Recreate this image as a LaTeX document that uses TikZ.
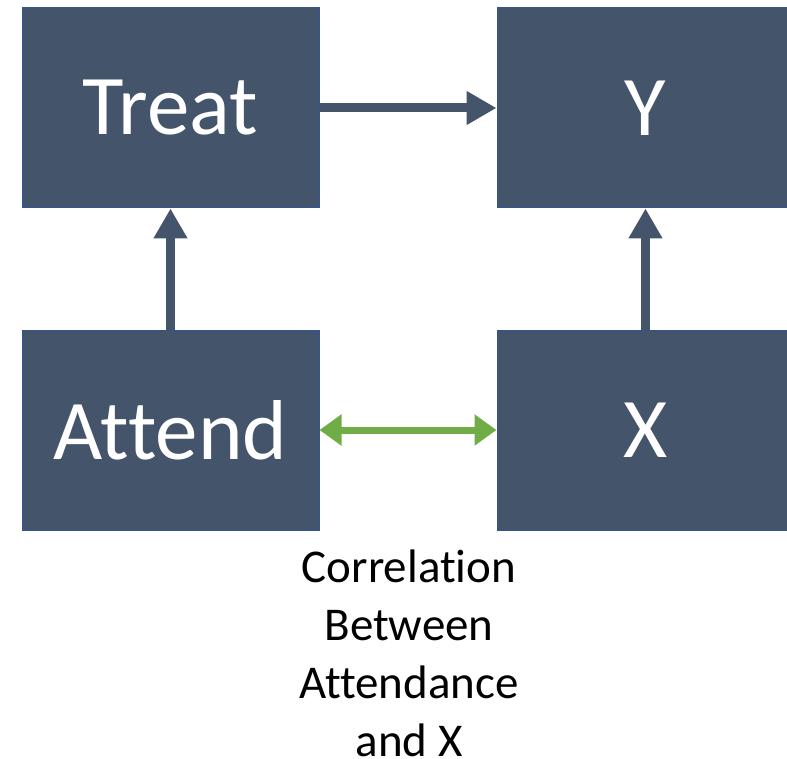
\documentclass[tikz,border=0pt]{standalone}
\usepackage{fontspec}
\setmainfont{Carlito}[Ligatures={NoCommon}]
\usetikzlibrary{arrows.meta}
\definecolor{boxfill}{HTML}{44546A}
\definecolor{boxline}{HTML}{2F5597}
\definecolor{corr}{HTML}{70AD47}
\begin{document}
\begin{tikzpicture}[x=1pt,y=-1pt,
  varbox/.style={draw=boxline,line width=1pt,fill=boxfill,text=white,
    minimum width=297pt,minimum height=200pt,inner sep=0pt,
    font=\fontsize{85}{90}\selectfont},
  causal/.style={draw=boxfill,line width=9pt,-{Triangle[width=32pt,length=30pt]}},
  corrarrow/.style={draw=corr,line width=7pt,{Triangle[width=30pt,length=22pt]}-{Triangle[width=30pt,length=22pt]}},
  caption/.style={align=center,font=\fontsize{47}{58}\selectfont,inner sep=0pt}]
\useasboundingbox (0,0) rectangle (787,759);
\node[varbox] (treat) at (170.5,108) {Treat};
\node[varbox] (y) at (645.5,108) {Y};
\node[varbox] (attend) at (170.5,430) {Attend};
\node[varbox] (x) at (645.5,430) {X};
\node[caption] (cap) at (409,653) {Correlation\\Between\\Attendance\\and X};
\draw[causal] (treat.east) -- (y.west);
\draw[causal] (attend.north) -- (treat.south);
\draw[causal] (x.north) -- (y.south);
\draw[corrarrow] (attend.east) -- (x.west);
\end{tikzpicture}
\end{document}
